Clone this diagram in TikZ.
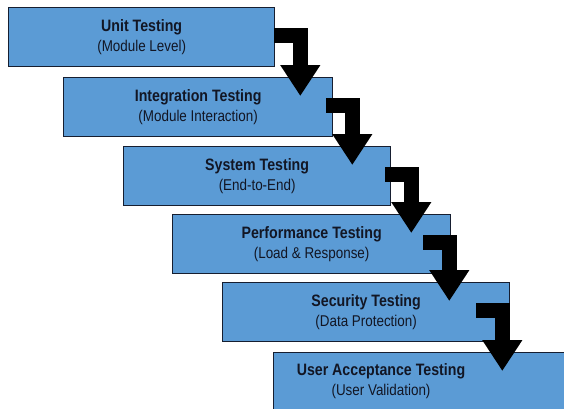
\documentclass[tikz,border=0pt]{standalone}
\usepackage{fontspec}
\setmainfont{Liberation Sans}[FakeStretch=0.86]
\usetikzlibrary{arrows.meta,calc}
\definecolor{stageblue}{RGB}{91,155,213}
\definecolor{stageline}{RGB}{22,30,48}
\definecolor{stagetext}{RGB}{18,22,36}
\newcommand{\titlefont}{\fontsize{16.5}{18}\selectfont\bfseries}
\newcommand{\subfont}{\fontsize{15.6}{18}\selectfont\mdseries}
\tikzstyle{stagebox}=[rectangle,draw=stageline,fill=stageblue,line width=1.3pt,minimum height=59pt,inner sep=0pt,anchor=north west,align=center,text=stagetext]
\tikzstyle{flowarrow}=[draw=black,line width=15pt,-{Triangle[width=38pt,length=31pt]}]

\begin{document}
\begin{tikzpicture}[x=1pt,y=-1pt]

\useasboundingbox (0,0) rectangle (564,408);
\clip (0,0) rectangle (564,408);

    % stages, top left to bottom right
    \foreach \pos/\boxw/\name/\title/\sub in {{(8,7)/266/unit/Unit Testing/Module Level},
        {(63,77)/269/integ/Integration Testing/Module Interaction},
        {(123,146)/267/system/System Testing/End-to-End},
        {(172,214)/278/perf/Performance Testing/Load \& Response},
        {(222,282)/287/sec/Security Testing/Data Protection}}
        \node[stagebox,minimum width=\boxw pt] (\name) at \pos {\titlefont \title\\[4pt] \subfont (\sub)};

    % last stage runs off the page
    \node[stagebox,minimum width=310pt,minimum height=70pt] (uat) at (273,352) {};
    \node[align=center,text=stagetext] (uattext) at ($(uat.north west)+(108,29)$) {\titlefont User Acceptance Testing\\[4pt] \subfont (User Validation)};

    % elbow arrows
    \foreach \u/\v/\dx in {unit/integ/25, integ/system/19, system/perf/20, perf/sec/-2, sec/uat/-8}
        \draw[flowarrow] ($(\u.east)+(\dx-26,-2)$) -| ($(\u.east |- \v.north)+(\dx,19)$);

\end{tikzpicture}
\end{document}
